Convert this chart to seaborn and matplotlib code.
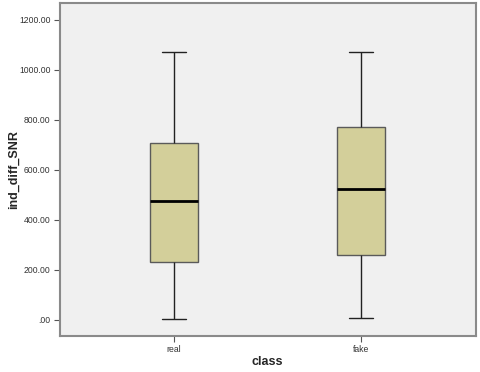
import matplotlib
matplotlib.use('Agg')
import matplotlib.pyplot as plt
import seaborn as sns
import pandas as pd
from matplotlib.ticker import FuncFormatter

# five-number summaries (min, Q1, median, Q3, max)
classes = ["real", "fake"]
real_vals = [3, 231, 473, 707, 1072]
fake_vals = [5, 259, 521, 772, 1071]
y_ticks = [0, 200, 400, 600, 800, 1000, 1200]

df = pd.DataFrame({
    "class": ["real"] * len(real_vals) + ["fake"] * len(fake_vals),
    "ind_diff_SNR": real_vals + fake_vals,
})

sns.set_style("white")
plt.rcParams['font.family'] = ['Liberation Sans', 'DejaVu Sans']

fig = plt.figure(figsize=(4.8, 3.72), dpi=100)
ax = fig.add_axes([0.124, 0.098, 0.867, 0.894])
ax.set_facecolor("#f0f0f0")

sns.boxplot(data=df, x="class", y="ind_diff_SNR", order=classes, ax=ax,
            width=0.26, color="#d3cf9a", whis=1.5, fliersize=0,
            boxprops=dict(edgecolor="#5a5a5a", linewidth=1.0),
            medianprops=dict(color="black", linewidth=2.0),
            whiskerprops=dict(color="#222222", linewidth=1.0),
            capprops=dict(color="#222222", linewidth=1.0),
            saturation=1)

ax.set_xlim(-0.612, 1.612)
ax.set_ylim(-64, 1268)
ax.set_yticks(y_ticks)
ax.yaxis.set_major_formatter(FuncFormatter(lambda v, p: ".00" if v == 0 else f"{v:.2f}"))

for s in ax.spines.values():
    s.set_color("#8a8a8a")
    s.set_linewidth(1.5)

ax.tick_params(axis="both", direction="out", length=4.5, width=0.8, color="#555555",
               labelsize=6.2, labelcolor="#333333", left=True, bottom=True, pad=2)

ax.set_xlabel("class", fontsize=9, fontweight="bold", va="center")
ax.set_ylabel("ind_diff_SNR", fontsize=9, fontweight="bold", va="center")
ax.xaxis.set_label_coords(0.5, -0.08)
ax.yaxis.set_label_coords(-0.109, 0.5)

fig.savefig("out.png", dpi=100)
